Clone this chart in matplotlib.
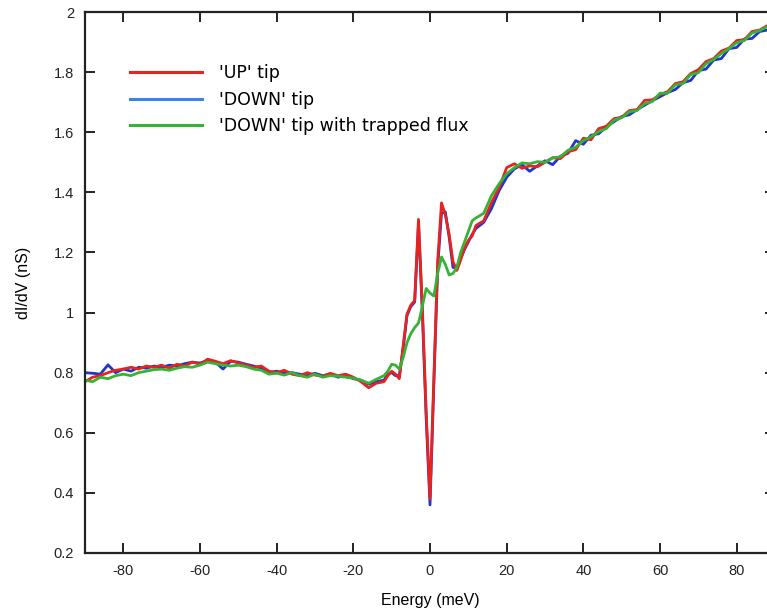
"""
Tunnelling conductance dI/dV vs energy for the 'UP' tip, 'DOWN' tip and
'DOWN' tip with trapped flux. Values read off the reference figure.
"""

import numpy as np
import matplotlib.pyplot as plt
from matplotlib.lines import Line2D


# Energy grid (meV): coarse on the flanks, 1 meV around zero bias
energy = (list(range(-90, -13, 2))
          + list(range(-12, 13, 1))
          + list(range(14, 89, 2)))

# 'DOWN' tip
down = [
    0.800, 0.798, 0.795, 0.826, 0.800, 0.812, 0.805, 0.818, 0.815, 0.822,
    0.818, 0.825, 0.822, 0.830, 0.835, 0.832, 0.840, 0.835, 0.812, 0.838,
    0.835, 0.828, 0.822, 0.815, 0.800, 0.805, 0.798, 0.800, 0.795, 0.790,
    0.798, 0.790, 0.795, 0.785, 0.790, 0.780, 0.775, 0.762, 0.770,
    # -12 .. 12
    0.775, 0.795, 0.800, 0.790, 0.790, 0.880, 0.990, 1.020, 1.035, 1.295,
    1.000, 0.650, 0.360, 0.760, 1.150, 1.330, 1.335, 1.250, 1.150, 1.150,
    1.180, 1.210, 1.235, 1.260, 1.280,
    # 14 .. 88
    1.300, 1.345, 1.405, 1.450, 1.478, 1.492, 1.470, 1.488, 1.505, 1.492,
    1.520, 1.530, 1.572, 1.560, 1.590, 1.595, 1.618, 1.635, 1.652, 1.658,
    1.675, 1.690, 1.705, 1.718, 1.732, 1.742, 1.765, 1.772, 1.805, 1.810,
    1.840, 1.845, 1.878, 1.882, 1.910, 1.912, 1.935, 1.940,
]

# 'UP' tip
up = [
    0.770, 0.785, 0.790, 0.800, 0.808, 0.812, 0.818, 0.812, 0.822, 0.818,
    0.825, 0.815, 0.828, 0.822, 0.835, 0.828, 0.845, 0.838, 0.830, 0.840,
    0.832, 0.825, 0.818, 0.822, 0.805, 0.800, 0.808, 0.795, 0.790, 0.800,
    0.792, 0.788, 0.798, 0.790, 0.795, 0.785, 0.770, 0.750, 0.765,
    # -12 .. 12
    0.770, 0.790, 0.805, 0.795, 0.780, 0.890, 0.995, 1.025, 1.040, 1.310,
    1.020, 0.670, 0.380, 0.780, 1.170, 1.365, 1.325, 1.260, 1.170, 1.140,
    1.175, 1.215, 1.240, 1.255, 1.290,
    # 14 .. 88
    1.305, 1.365, 1.415, 1.482, 1.495, 1.480, 1.488, 1.485, 1.500, 1.515,
    1.512, 1.535, 1.542, 1.580, 1.575, 1.612, 1.620, 1.645, 1.650, 1.672,
    1.675, 1.706, 1.708, 1.725, 1.735, 1.762, 1.768, 1.795, 1.808, 1.835,
    1.845, 1.870, 1.880, 1.905, 1.908, 1.935, 1.940, 1.955,
]

# 'DOWN' tip with trapped flux
flux = [
    0.775, 0.770, 0.785, 0.780, 0.790, 0.795, 0.790, 0.800, 0.805, 0.810,
    0.812, 0.808, 0.815, 0.820, 0.818, 0.825, 0.835, 0.830, 0.825, 0.822,
    0.825, 0.820, 0.812, 0.808, 0.795, 0.798, 0.792, 0.800, 0.790, 0.785,
    0.795, 0.785, 0.790, 0.788, 0.785, 0.782, 0.775, 0.765, 0.778,
    # -12 .. 12
    0.790, 0.805, 0.828, 0.825, 0.812, 0.850, 0.900, 0.930, 0.950, 0.965,
    1.020, 1.080, 1.065, 1.055, 1.130, 1.185, 1.160, 1.125, 1.130, 1.150,
    1.200, 1.235, 1.270, 1.305, 1.315,
    # 14 .. 88
    1.330, 1.388, 1.428, 1.462, 1.482, 1.498, 1.495, 1.502, 1.500, 1.515,
    1.518, 1.540, 1.550, 1.572, 1.585, 1.602, 1.612, 1.640, 1.648, 1.668,
    1.672, 1.695, 1.702, 1.730, 1.730, 1.758, 1.762, 1.792, 1.798, 1.828,
    1.842, 1.862, 1.878, 1.898, 1.905, 1.930, 1.938, 1.952,
]

labels = ["'UP' tip", "'DOWN' tip", "'DOWN' tip with trapped flux"]
x_ticks = [-80, -60, -40, -20, 0, 20, 40, 60, 80]
y_ticks = [0.2, 0.4, 0.6, 0.8, 1.0, 1.2, 1.4, 1.6, 1.8, 2.0]
y_tick_labels = ['0.2', '0.4', '0.6', '0.8', '1', '1.2', '1.4', '1.6', '1.8', '2']

red = '#e8231f'
blue = '#2236c8'
blue_legend = '#3a86e8'
green = '#36b336'

fig = plt.figure(figsize=(7.67, 6.13), dpi=100)
# right spine sits just past the image edge, as in the original crop
ax = fig.add_axes([85 / 767, 60 / 613, 690 / 767, 541 / 613])

lw = 2.0
ax.plot(energy, down, color=blue, linewidth=lw)
ax.plot(energy, up, color=red, linewidth=lw)
ax.plot(energy, flux, color=green, linewidth=lw)

ax.set_xlim(-90, 90)
ax.set_ylim(0.2, 2.0)
ax.set_xticks(x_ticks)
ax.set_xticklabels([str(t) for t in x_ticks])
ax.set_yticks(y_ticks)
ax.set_yticklabels(y_tick_labels)

for lab in ax.get_xticklabels() + ax.get_yticklabels():
    lab.set_fontfamily('Liberation Sans')
    lab.set_fontsize(10.5)

ax.tick_params(axis='both', which='major', direction='in', length=7, width=1.4,
               top=True, right=True, pad=8, colors='#222222')
for side in ax.spines.values():
    side.set_linewidth(1.6)
    side.set_color('#222222')

ax.set_xlabel('Energy (meV)', fontsize=11.5, family='Liberation Sans', labelpad=11)
ax.set_ylabel('dI/dV (nS)', fontsize=11.5, family='Liberation Sans', labelpad=16)

handles = [Line2D([], [], color=red, linewidth=2.2),
           Line2D([], [], color=blue_legend, linewidth=2.2),
           Line2D([], [], color=green, linewidth=2.2)]
ax.legend(handles, labels, loc='upper left', bbox_to_anchor=(130 / 767, 1 - 64 / 613),
          bbox_transform=fig.transFigure, frameon=False, fontsize=12.5,
          handlelength=4.15, handletextpad=1.0, labelspacing=0.5,
          borderaxespad=0, borderpad=0)

fig.savefig('out.png', dpi=100)
